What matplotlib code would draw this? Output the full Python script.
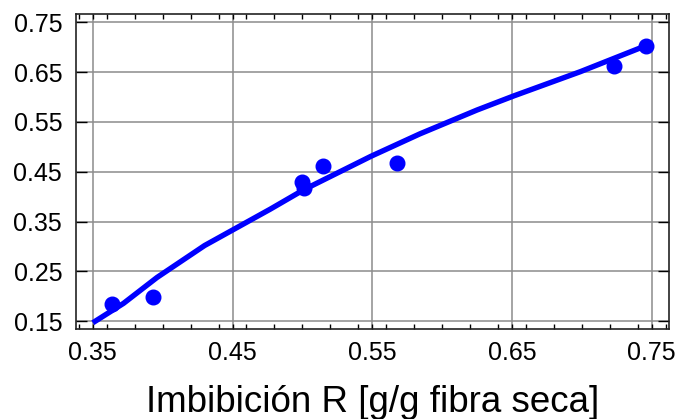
import matplotlib
matplotlib.use('Agg')
import matplotlib.pyplot as plt
from matplotlib.ticker import MultipleLocator

plt.rcParams['font.family'] = ['Liberation Sans', 'DejaVu Sans']

# measured points
r_data = [0.364, 0.393, 0.500, 0.501, 0.515, 0.568, 0.723, 0.746]
y_data = [0.184, 0.199, 0.430, 0.418, 0.462, 0.468, 0.663, 0.703]

# fitted curve
r_fit = [0.350, 0.372, 0.396, 0.430, 0.477, 0.501, 0.549,
         0.584, 0.625, 0.651, 0.699, 0.744]
y_fit = [0.147, 0.186, 0.238, 0.302, 0.375, 0.414, 0.481,
         0.526, 0.574, 0.602, 0.651, 0.701]

xticks = [0.35, 0.45, 0.55, 0.65, 0.75]
yticks = [0.15, 0.25, 0.35, 0.45, 0.55, 0.65, 0.75]

fig = plt.figure(figsize=(6.77, 4.19), dpi=100)
ax = fig.add_axes([0.1123, 0.2148, 0.8759, 0.7518])

ax.plot(r_fit, y_fit, color='#0000ff', lw=3.9, solid_capstyle='butt', zorder=3)
ax.plot(r_data, y_data, 'o', color='#0000ff', ms=10.5, zorder=4)

ax.set_xlim(0.338, 0.7624)
ax.set_ylim(0.1345, 0.7667)
ax.set_xticks(xticks)
ax.set_xticklabels(['%.2f' % v for v in xticks])
ax.set_yticks(yticks)
ax.set_yticklabels(['%.2f' % v for v in yticks])
ax.xaxis.set_minor_locator(MultipleLocator(0.02))

ax.grid(True, which='major', color='#8c8c8c', lw=1.1)
ax.set_axisbelow(True)

ax.tick_params(axis='x', which='both', direction='in', top=True, bottom=True,
               length=3.5, width=1, labelsize=18, pad=9)
ax.tick_params(axis='y', which='major', direction='in', left=True, right=True,
               length=8, width=1, labelsize=18, pad=10)
for s in ax.spines.values():
    s.set_linewidth(1.2)
    s.set_color('#222222')

ax.set_xlabel('Imbibición R [g/g fibra seca]', fontsize=26.5, labelpad=14)

fig.savefig('out.png', dpi=100)
